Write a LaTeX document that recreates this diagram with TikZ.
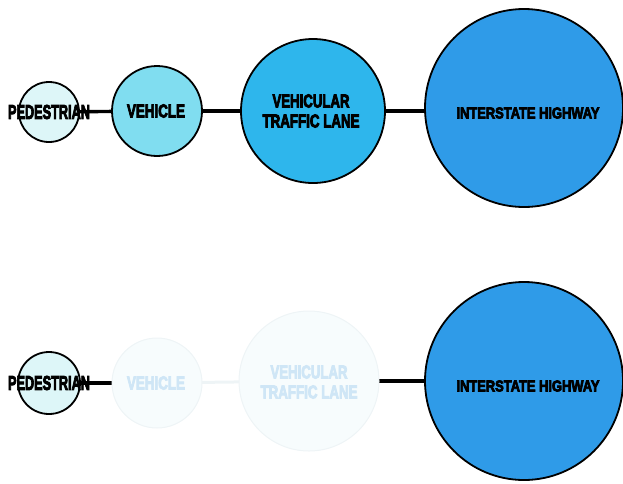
\documentclass[tikz,border=0pt]{standalone}
\usepackage{fontspec}
\setmainfont{Liberation Sans}
\newfontfamily\heavyfont[FakeBold=5]{Liberation Sans Bold}
\usepackage{graphicx}
\definecolor{pedfill}{HTML}{DDF6F8}
\definecolor{vehfill}{HTML}{80DDF0}
\definecolor{lanefill}{HTML}{2EB6EC}
\definecolor{hwyfill}{HTML}{2F9BE8}
\definecolor{fadefill}{HTML}{F7FCFD}
\definecolor{fadeline}{HTML}{EEF4F6}
\definecolor{fadetext}{HTML}{CFE6F6}
\newcommand{\lab}[3]{\resizebox{#1pt}{#2pt}{\heavyfont #3}}
\begin{document}
\begin{tikzpicture}[x=1pt,y=-1pt,
  bub/.style={circle,draw=black,line width=1.8pt,inner sep=0pt,minimum size=#1},
  fade/.style={circle,draw=fadeline,line width=1pt,fill=fadefill,inner sep=0pt,minimum size=#1},
  link/.style={line width=3.4pt,black},
  flink/.style={line width=3pt,fadeline},
  txt/.style={inner sep=0pt,align=center,text=black}]
\useasboundingbox (0,0) rectangle (623,483);
% top row
\coordinate (p1c) at (49,112);
\coordinate (v1c) at (157,111);
\coordinate (l1c) at (313,111);
\coordinate (i1c) at (524,108);
\draw[link] (p1c) -- (v1c);
\draw[link] (v1c) -- (l1c);
\draw[link] (l1c) -- (i1c |- l1c);
\node[bub=60pt,fill=pedfill] (p1) at (p1c) {};
\node[bub=90pt,fill=vehfill] (v1) at (v1c) {};
\node[bub=144pt,fill=lanefill] (l1) at (l1c) {};
\node[bub=198pt,fill=hwyfill] (i1) at (i1c) {};
\node[txt] (p1t) at (49,112) {\lab{82}{14}{PEDESTRIAN}};
\node[txt] (v1t) at (156,111) {\lab{58}{13}{VEHICLE}};
\node[txt] (l1ta) at (311,101) {\lab{77}{13}{VEHICULAR}};
\node[txt] (l1tb) at (311,121) {\lab{97}{13}{TRAFFIC LANE}};
\node[txt] (i1t) at (528,113) {\lab{143}{11}{INTERSTATE HIGHWAY}};
% bottom row
\coordinate (p2c) at (49,383);
\coordinate (v2c) at (157,383);
\coordinate (l2c) at (309,381);
\coordinate (i2c) at (524,381);
\draw[link] (p2c) -- (v2c);
\draw[flink] (v2c) -- (l2c);
\draw[link] (l2c) -- (i2c |- l2c);
\node[bub=62pt,fill=pedfill] (p2) at (p2c) {};
\node[fade=90pt] (v2) at (v2c) {};
\node[fade=140pt] (l2) at (l2c) {};
\node[bub=198pt,fill=hwyfill] (i2) at (i2c) {};
\node[txt] (p2t) at (49,383) {\lab{82}{14}{PEDESTRIAN}};
\node[txt] (v2t) at (156,383) {\textcolor{fadetext}{\lab{58}{13}{VEHICLE}}};
\node[txt] (l2ta) at (309,372) {\textcolor{fadetext}{\lab{77}{13}{VEHICULAR}}};
\node[txt] (l2tb) at (309,392) {\textcolor{fadetext}{\lab{97}{13}{TRAFFIC LANE}}};
\node[txt] (i2t) at (528,386) {\lab{143}{11}{INTERSTATE HIGHWAY}};
\end{tikzpicture}
\end{document}
